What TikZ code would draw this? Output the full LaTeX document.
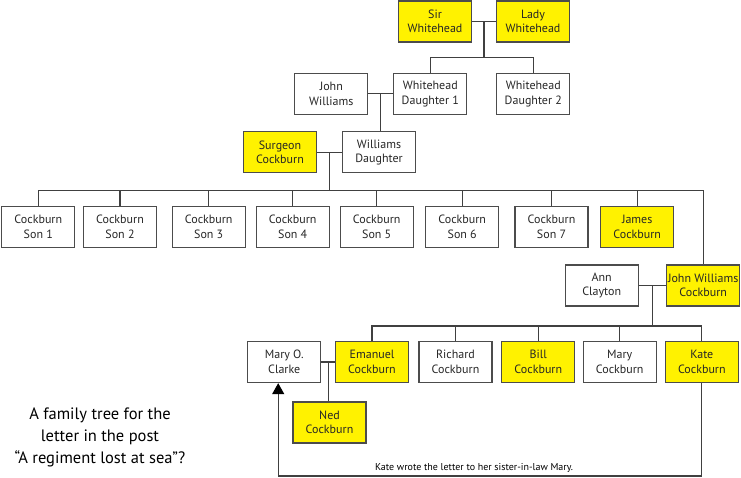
\documentclass[tikz,border=0pt]{standalone}
\usepackage{fontspec}
\setmainfont{PT Sans}
\usetikzlibrary{positioning}
\usetikzlibrary{arrows.meta}

\begin{document}
\begin{tikzpicture}
  [x=1pt, y=-1pt,
   person/.style = {rectangle, draw=black!70, line width=1.3pt,
                    minimum width=73pt, minimum height=41pt, inner sep=0pt,
                    align=center, text=black!85,
                    font=\fontsize{12}{14.5}\selectfont},
   yel/.style = {person, fill=yellow},
   link/.style = {draw=black!75, line width=1.2pt}]
  \useasboundingbox (0,0) rectangle (741,478);

  % Whiteheads
  \node (sw) [yel] at (435,21.5) {Sir\\Whitehead};
  \node (lw) [yel, right=23.7pt of sw] {Lady\\Whitehead};

  \node (jw) [person] at (331.3,93.8) {John\\Williams};
  \node (wd1) [person, right=24.7pt of jw] {Whitehead\\Daughter 1};
  \node (wd2) [person, right=28.7pt of wd1] {Whitehead\\Daughter 2};

  \node (sc) [yel] at (280,152.3) {Surgeon\\Cockburn};
  \node (wdau) [person, right=24.7pt of sc] {Williams\\Daughter};

  % the sons
  \node (s1) [person] at (38.3,227) {Cockburn\\Son 1};
  \node (s2) [person, right=7.4pt of s1] {Cockburn\\Son 2};
  \node (s3) [person, right=14.4pt of s2] {Cockburn\\Son 3};
  \node (s4) [person, right=9.7pt of s3] {Cockburn\\Son 4};
  \node (s5) [person, right=9.7pt of s4] {Cockburn\\Son 5};
  \node (s6) [person, right=11.2pt of s5] {Cockburn\\Son 6};
  \node (s7) [person, right=15pt of s6] {Cockburn\\Son 7};
  \node (jc) [yel, right=11.4pt of s7] {James\\Cockburn};

  \node (ac) [person] at (601.7,285.5) {Ann\\Clayton};
  \node (jwc) [yel, right=27.2pt of ac] {John Williams\\Cockburn};

  % grandchildren
  \node (moc) [person] at (284.2,362) {Mary O.\\Clarke};
  \node (ec) [yel, right=13.5pt of moc] {Emanuel\\Cockburn};
  \node (rc) [person, right=9.2pt of ec] {Richard\\Cockburn};
  \node (bc) [yel, right=8.5pt of rc] {Bill\\Cockburn};
  \node (mc) [person, right=7.1pt of bc] {Mary\\Cockburn};
  \node (kc) [yel, right=7.8pt of mc] {Kate\\Cockburn};
  \node (ned) [yel] at (329.5,422.5) {Ned\\Cockburn};

  \node (title) [align=center, font=\fontsize{16.5}{22}\selectfont]
    at (100,437) {A family tree for the\\letter in the post\\“A regiment lost at sea”?};
  \node (note) [font=\fontsize{10}{12}\selectfont] at (474,467.5)
    {Kate wrote the letter to her sister-in-law Mary.};

  \draw [link] (sw) -- coordinate (m1) (lw);
  \draw [link] (m1) -- ++(0,36) coordinate (b1);
  \draw [link] (wd1.north) |- (b1) -| (wd2.north);

  \draw [link] (jw) -- coordinate (m2) (wd1);
  \draw [link] (m2) -- (m2 |- wdau.north);

  \draw [link] (sc) -- coordinate (m3) (wdau);
  \draw [link] (m3) -- ++(0,38) coordinate (b3);
  \draw [link] (s1.north) |- (b3) -| (jwc.north);
  \foreach \s in {s2,s3,s4,s5,s6,s7,jc}
    \draw [link] (\s.north) -- (\s.north |- b3);

  \draw [link] (ac) -- coordinate (m4) (jwc);
  \draw [link] (m4) -- ++(0,40.5) coordinate (b4);
  \draw [link] (ec.north) |- (b4) -| (kc.north);
  \foreach \s in {rc,bc,mc}
    \draw [link] (\s.north) -- (\s.north |- b4);

  \draw [link] (moc) -- coordinate (m5) (ec);
  \draw [link] (m5) -- (m5 |- ned.north);

  % the letter
  \coordinate (tip) at ([xshift=-6pt]moc.south);
  \coordinate (low) at (0,476);
  \draw [link, -{Triangle[width=12pt,length=11pt,color=black]}]
    (kc.south) |- (tip |- low) -- (tip);
\end{tikzpicture}
\end{document}
